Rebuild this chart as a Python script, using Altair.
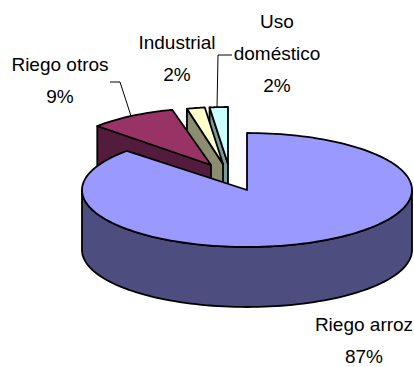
import math
import altair as alt

# Water use by sector, percent of the total
sectors = ["Riego arroz", "Riego otros", "Industrial", "Uso doméstico"]
shares = [87, 9, 2, 2]
top_colors = ["#9999ff", "#993366", "#ffffcc", "#ccffff"]
side_colors = ["#4d4d80", "#541c3c", "#8c8c70", "#7a9a9a"]

# Pie geometry in page units: apex of each wedge and its horizontal radius
apex_x = [247, 211, 223, 228]
apex_y = [190, 165, 164, 164]
radius_x = [165, 156, 145, 147]
radius_y = 57
depth = 60

# Label placement, centre of the text block and of its first line
label_x = [364, 60, 177, 277]
label_y = [325, 65, 43, 22]
label_lines = [["Riego arroz"], ["Riego otros"], ["Industrial"], ["Uso", "doméstico"]]
line_height = 32

W, H = 414, 367


def rim(i, a):
    """Point on the elliptical rim of wedge i; a is degrees clockwise from 12 o'clock."""
    t = math.radians(a)
    return (apex_x[i] + radius_x[i] * math.sin(t), apex_y[i] - radius_y * math.cos(t))


def down(p):
    return (p[0], p[1] + depth)


def feature(points, fill):
    ring = [[x, y] for x, y in points] + [[points[0][0], points[0][1]]]
    return {
        "type": "Feature",
        "geometry": {"type": "Polygon", "coordinates": [ring]},
        "properties": {"fill": fill},
    }


# Angular span of every wedge, the largest one starting at 12 o'clock
starts, ends = [], []
running = 0.0
for s in shares:
    starts.append(running)
    running += s * 3.6
    ends.append(running)

shapes = []
# Small wedges go back to front, so each one hides the cut face of the one behind
for i in (3, 2, 1):
    apex = (apex_x[i], apex_y[i])
    start_pt = rim(i, starts[i])
    arc = [rim(i, starts[i] + (ends[i] - starts[i]) * k / 16) for k in range(17)]
    shapes.append(feature([start_pt, apex, down(apex), down(start_pt)], side_colors[i]))
    shapes.append(feature([apex] + arc, top_colors[i]))

# Largest wedge: outer wall along the front half of the rim, then its top face
front = [rim(0, 90 + 180 * k / 90) for k in range(91)]
shapes.append(feature(front + [down(p) for p in reversed(front)], side_colors[0]))
steps = 160
arc = [rim(0, starts[0] + (ends[0] - starts[0]) * k / steps) for k in range(steps + 1)]
shapes.append(feature([(apex_x[0], apex_y[0])] + arc, top_colors[0]))

# Invisible frame that ties the projection to the full page
frame = feature([(0, 0), (W, 0), (W, H), (0, H)], "transparent")

frame_layer = (
    alt.Chart(alt.Data(values=[frame]))
    .mark_geoshape(fill="transparent", strokeWidth=0)
    .project(type="identity")
)

pie_layer = (
    alt.Chart(alt.Data(values=shapes))
    .mark_geoshape(stroke="black", strokeWidth=1.8, strokeJoin="round")
    .encode(fill=alt.Fill("properties.fill:N", scale=None))
    .project(type="identity")
)

# Leader lines from the labels of the two wedges whose text sits off to the side
leaders = []
for name, pts in (
    ("otros", [(110, 82), (120, 82), (131, 116)]),
    ("uso", [(232, 55), (218, 55), (217, 108)]),
):
    for k, (x, y) in enumerate(pts):
        leaders.append({"leader": name, "k": k, "lon": x, "lat": y})

leader_layer = (
    alt.Chart(alt.Data(values=leaders))
    .mark_line(color="black", strokeWidth=1)
    .encode(
        longitude="lon:Q",
        latitude="lat:Q",
        detail="leader:N",
        order="k:Q",
    )
    .project(type="identity")
)

labels = []
for i, sector in enumerate(sectors):
    lines = label_lines[i] + [f"{shares[i]}%"]
    for k, text in enumerate(lines):
        labels.append({"text": text, "lon": label_x[i], "lat": label_y[i] + k * line_height})

label_layer = (
    alt.Chart(alt.Data(values=labels))
    .mark_text(font="Liberation Sans", fontSize=19, color="black", align="center", baseline="middle")
    .encode(longitude="lon:Q", latitude="lat:Q", text="text:N")
    .project(type="identity")
)

chart = (
    alt.layer(frame_layer, pie_layer, leader_layer, label_layer)
    .properties(width=W, height=H, padding=0, background="white")
    .configure_view(stroke=None)
)

chart.save("out.html", embed_options={"renderer": "svg", "actions": False})
